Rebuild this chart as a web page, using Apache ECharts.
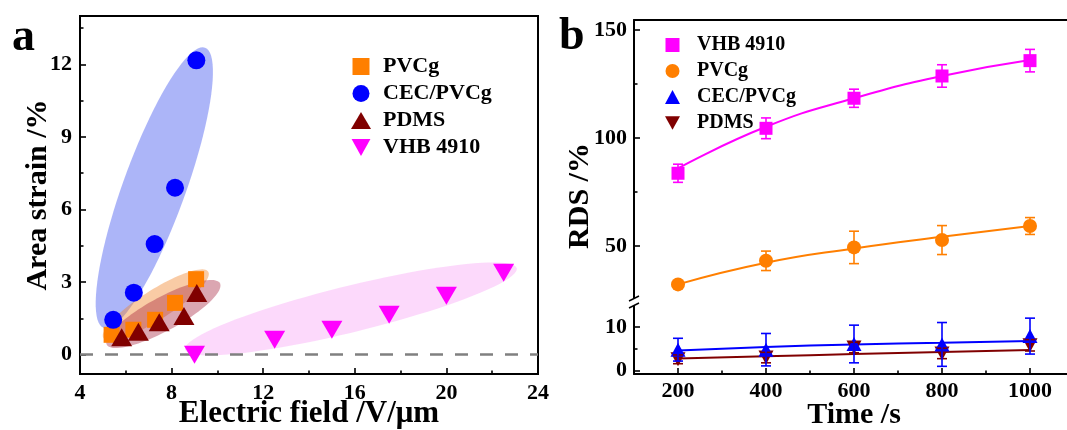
<!DOCTYPE html>
<html><head><meta charset="utf-8">
<script src="https://cdn.jsdelivr.net/npm/echarts@6/dist/echarts.min.js"></script>
<style>html,body{margin:0;padding:0;background:#fff}#c{width:1067px;height:430px}</style>
</head><body><div id="c"></div>
<script>
// ---------- Panel a data ----------
const fieldPVCg = [5.38, 6.33, 7.28, 8.15, 9.07];
const strainPVCg = [0.82, 1.03, 1.44, 2.14, 3.12];
const fieldCEC = [5.45, 6.35, 7.26, 8.15, 9.08];
const strainCEC = [1.44, 2.56, 4.57, 6.90, 12.17];
const fieldPDMS = [5.82, 6.55, 7.46, 8.54, 9.10];
const strainPDMS = [0.72, 0.95, 1.34, 1.60, 2.55];
const fieldVHB = [9, 12.5, 15, 17.5, 20, 22.5];
const strainVHB = [0, 0.62, 1.03, 1.65, 2.43, 3.39];
const yTicksA = [0, 3, 6, 9, 12];
const yMinorA = [1.5, 4.5, 7.5, 10.5, 13.5];
// highlight ellipses: major-axis end points (data units) and width/length ratio
const ellipseCEC = [5.03, 1.11, 9.46, 12.69, 0.21];
const ellipsePVCg = [5.02, 0.69, 9.60, 3.43, 0.24];
const ellipsePDMS = [5.17, 0.41, 10.11, 2.95, 0.26];
const ellipseVHB = [8.59, 0.21, 23.07, 3.57, 0.136];

// ---------- Panel b data ----------
const times = [200, 400, 600, 800, 1000];
const timeTicks = [200, 400, 600, 800, 1000];
const timeMinor = [300, 500, 700, 900];
const rdsVHB = [83.7, 104.5, 118.4, 128.7, 135.8];
const errVHB = [4.2, 4.8, 4.2, 5.2, 5.2];
const fitVHB = [86.0, 105.2, 118.4, 128.7, 136.1];
const rdsPVCg = [32.3, 43.2, 49.4, 52.8, 59.3];
const errPVCg = [1.0, 4.5, 7.5, 6.7, 3.9];
const fitPVCg = [32.3, 42.3, 48.9, 54.3, 59.3];
const rdsCEC = [4.8, 4.8, 6.1, 6.0, 7.9];
const errCEC = [2.6, 3.7, 4.3, 5.0, 4.1];
const fitCEC = [4.6, 5.4, 6.0, 6.4, 6.8];
const rdsPDMS = [2.6, 3.0, 5.3, 3.95, 5.8];
const errPDMS = [1.0, 1.2, 1.2, 1.2, 1.3];
const fitPDMS = [2.8, 3.3, 3.8, 4.3, 4.7];
const upperTicks = [50, 100, 150];
const upperMinor = [75, 125];
const lowerTicks = [0, 10];
const lowerMinor = [5];

const FONT = 'Liberation Serif';
const ORANGE = '#ff7f00', BLUE = '#0000ff', DRED = '#800000', MAG = '#ff00ff';
const INV_TRI = 'path://M0,0L10,0L5,9Z';
const SQUARE = 'path://M0,0H10V10H0Z';

function pairs(xs, ys) { return xs.map((x, i) => [x, ys[i]]); }
function errData(xs, ys, es) { return xs.map((x, i) => [x, ys[i] - es[i], ys[i] + es[i]]); }

function ellipseItem(params, api) {
  const p1 = api.coord([api.value(0), api.value(1)]);
  const p2 = api.coord([api.value(2), api.value(3)]);
  const ratio = api.value(4);
  const cx = (p1[0] + p2[0]) / 2, cy = (p1[1] + p2[1]) / 2;
  const th = Math.atan2(p2[1] - p1[1], p2[0] - p1[0]);
  const a = Math.hypot(p2[0] - p1[0], p2[1] - p1[1]) / 2, b = a * ratio;
  const pts = [];
  for (let k = 0; k < 90; k++) {
    const t = k / 90 * 2 * Math.PI;
    const ux = a * Math.cos(t), uy = b * Math.sin(t);
    pts.push([cx + ux * Math.cos(th) - uy * Math.sin(th), cy + ux * Math.sin(th) + uy * Math.cos(th)]);
  }
  return { type: 'polygon', shape: { points: pts }, style: { fill: api.visual('color') } };
}
function errItem(params, api) {
  const x = api.value(0);
  const lo = api.coord([x, api.value(1)]), hi = api.coord([x, api.value(2)]);
  const w = 5;
  const style = { stroke: api.visual('color'), lineWidth: 1.6 };
  return { type: 'group', children: [
    { type: 'line', shape: { x1: lo[0], y1: lo[1], x2: hi[0], y2: hi[1] }, style },
    { type: 'line', shape: { x1: lo[0] - w, y1: lo[1], x2: lo[0] + w, y2: lo[1] }, style },
    { type: 'line', shape: { x1: hi[0] - w, y1: hi[1], x2: hi[0] + w, y2: hi[1] }, style }
  ] };
}

const plain = v => String(v);
const tickLabel = { fontFamily: FONT, fontWeight: 'bold', fontSize: 22, color: '#000', formatter: plain };
const nameStyle = { fontFamily: FONT, fontWeight: 'bold', fontSize: 30, color: '#000' };
const lineBlk = { color: '#000', width: 2 };
const tickMajor = { inside: true, length: 6, lineStyle: { color: '#000', width: 1.6 } };
const tickMinor = { inside: true, length: 3.5, lineStyle: { color: '#000', width: 1.6 } };

const chart = echarts.init(document.getElementById('c'));
const option = {
  animation: false,
  backgroundColor: '#fff',
  grid: [
    { left: 80, top: 16, right: 529, bottom: 56, show: true, borderColor: '#000', borderWidth: 2, outerBoundsMode: 'none', containLabel: false },
    { left: 634, top: 20, right: -7, bottom: 132, outerBoundsMode: 'none', containLabel: false },
    { left: 634, top: 305, right: -7, bottom: 56, outerBoundsMode: 'none', containLabel: false }
  ],
  xAxis: [
    { gridIndex: 0, type: 'value', min: 4, max: 24, interval: 4, position: 'bottom',
      axisLine: { onZero: false, lineStyle: lineBlk }, axisTick: tickMajor,
      minorTick: { show: true, splitNumber: 2, length: 3.5, lineStyle: { color: '#000', width: 1.6 } },
      axisLabel: Object.assign({ margin: 8 }, tickLabel), splitLine: { show: false }, minorSplitLine: { show: false },
      name: 'Electric field /V/μm', nameLocation: 'middle', nameGap: 24, nameMoveOverlap: false,
      nameTextStyle: Object.assign({}, nameStyle, { fontSize: 31 }) },
    { gridIndex: 1, type: 'value', min: 100, max: 1100, position: 'top',
      axisLine: { onZero: false, lineStyle: lineBlk }, axisTick: { show: false }, axisLabel: { show: false }, splitLine: { show: false } },
    { gridIndex: 2, type: 'value', min: 100, max: 1100, position: 'bottom',
      axisLine: { onZero: false, lineStyle: lineBlk }, axisTick: Object.assign({ customValues: timeTicks }, tickMajor),
      axisLabel: Object.assign({ margin: 6, customValues: timeTicks }, tickLabel), splitLine: { show: false },
      name: 'Time /s', nameLocation: 'middle', nameGap: 26, nameMoveOverlap: false, nameTextStyle: nameStyle },
    { gridIndex: 2, type: 'value', min: 100, max: 1100, position: 'bottom',
      axisLine: { show: false, onZero: false }, axisTick: Object.assign({ customValues: timeMinor }, tickMinor),
      axisLabel: { show: false }, splitLine: { show: false } }
  ],
  yAxis: [
    { gridIndex: 0, type: 'value', min: -0.8, max: 14, position: 'left',
      axisLine: { onZero: false, lineStyle: lineBlk }, axisTick: Object.assign({ customValues: yTicksA }, tickMajor),
      axisLabel: Object.assign({ margin: 8, customValues: yTicksA }, tickLabel), splitLine: { show: false },
      name: 'Area strain /%', nameLocation: 'middle', nameGap: 27, nameMoveOverlap: false, nameTextStyle: nameStyle },
    { gridIndex: 0, type: 'value', min: -0.8, max: 14, position: 'left',
      axisLine: { show: false, onZero: false }, axisTick: Object.assign({ customValues: yMinorA }, tickMinor),
      axisLabel: { show: false }, splitLine: { show: false } },
    { gridIndex: 1, type: 'value', min: 26, max: 154.6, position: 'left',
      axisLine: { onZero: false, lineStyle: lineBlk }, axisTick: Object.assign({ customValues: upperTicks }, tickMajor),
      axisLabel: Object.assign({ margin: 7, customValues: upperTicks }, tickLabel), splitLine: { show: false } },
    { gridIndex: 1, type: 'value', min: 26, max: 154.6, position: 'left',
      axisLine: { show: false, onZero: false }, axisTick: Object.assign({ customValues: upperMinor }, tickMinor),
      axisLabel: { show: false }, splitLine: { show: false } },
    { gridIndex: 2, type: 'value', min: -0.75, max: 15, position: 'left',
      axisLine: { onZero: false, lineStyle: lineBlk }, axisTick: Object.assign({ customValues: lowerTicks }, tickMajor),
      axisLabel: Object.assign({ margin: 7, customValues: lowerTicks }, tickLabel), splitLine: { show: false } },
    { gridIndex: 2, type: 'value', min: -0.75, max: 15, position: 'left',
      axisLine: { show: false, onZero: false }, axisTick: Object.assign({ customValues: lowerMinor }, tickMinor),
      axisLabel: { show: false }, splitLine: { show: false } }
  ],
  legend: [
    { orient: 'vertical', left: 346, top: 48, itemWidth: 20, itemHeight: 17, itemGap: 0,
      textStyle: { fontFamily: FONT, fontWeight: 'bold', fontSize: 22, color: '#000', lineHeight: 27, padding: [0, 0, 0, 7] },
      data: [
        { name: 'PVCg', icon: SQUARE },
        { name: 'CEC/PVCg', icon: 'circle' },
        { name: 'PDMS', icon: 'triangle' },
        { name: 'VHB 4910', icon: INV_TRI }
      ] },
    { orient: 'vertical', left: 660, top: 27, itemWidth: 15, itemHeight: 14, itemGap: 0,
      textStyle: { fontFamily: FONT, fontWeight: 'bold', fontSize: 20, color: '#000', lineHeight: 26, padding: [0, 0, 0, 12] },
      data: [
        { name: 'VHB 4910', icon: SQUARE, itemStyle: { color: MAG } },
        { name: 'PVCg', icon: 'circle', itemStyle: { color: ORANGE } },
        { name: 'CEC/PVCg', icon: 'triangle', itemStyle: { color: BLUE } },
        { name: 'PDMS', icon: INV_TRI, itemStyle: { color: DRED } }
      ] }
  ],
  graphic: [
    { type: 'text', left: 12, top: 15, style: { text: 'a', font: 'bold 46px "Liberation Serif"', fill: '#000' } },
    { type: 'text', left: 559, top: 14, style: { text: 'b', font: 'bold 46px "Liberation Serif"', fill: '#000' } },
    { type: 'text', x: 580, y: 196, rotation: Math.PI / 2,
      style: { text: 'RDS /%', font: 'bold 30px "Liberation Serif"', fill: '#000', align: 'center', verticalAlign: 'middle' } },
    { type: 'rect', shape: { x: 628, y: 298, width: 12, height: 7 }, style: { fill: '#fff' }, z: 10 },
    { type: 'line', shape: { x1: 629, y1: 301, x2: 639, y2: 296 }, style: { stroke: '#000', lineWidth: 1.5 }, z: 11 },
    { type: 'line', shape: { x1: 629, y1: 308, x2: 639, y2: 303 }, style: { stroke: '#000', lineWidth: 1.5 }, z: 11 }
  ],
  series: [
    { name: 'e-CEC', type: 'custom', xAxisIndex: 0, yAxisIndex: 0, renderItem: ellipseItem, data: [ellipseCEC], itemStyle: { color: 'rgba(70,90,240,0.45)' }, z: 1, silent: true },
    { name: 'e-PVCg', type: 'custom', xAxisIndex: 0, yAxisIndex: 0, renderItem: ellipseItem, data: [ellipsePVCg], itemStyle: { color: 'rgba(240,130,40,0.42)' }, z: 1, silent: true },
    { name: 'e-PDMS', type: 'custom', xAxisIndex: 0, yAxisIndex: 0, renderItem: ellipseItem, data: [ellipsePDMS], itemStyle: { color: 'rgba(160,20,50,0.38)' }, z: 1, silent: true },
    { name: 'e-VHB', type: 'custom', xAxisIndex: 0, yAxisIndex: 0, renderItem: ellipseItem, data: [ellipseVHB], itemStyle: { color: 'rgba(245,120,240,0.28)' }, z: 1, silent: true },
    { name: 'PVCg', type: 'scatter', xAxisIndex: 0, yAxisIndex: 0, data: pairs(fieldPVCg, strainPVCg),
      symbol: SQUARE, symbolSize: 16, itemStyle: { color: ORANGE, opacity: 1 }, z: 3,
      markLine: { silent: true, symbol: ['none', 'none'], label: { show: false }, data: [{ yAxis: 0 }],
        lineStyle: { color: '#808080', width: 2.5, type: [13, 12] }, z: 2 } },
    { name: 'CEC/PVCg', type: 'scatter', xAxisIndex: 0, yAxisIndex: 0, data: pairs(fieldCEC, strainCEC),
      symbol: 'circle', symbolSize: 18, itemStyle: { color: BLUE, opacity: 1 }, z: 3 },
    { name: 'PDMS', type: 'scatter', xAxisIndex: 0, yAxisIndex: 0, data: pairs(fieldPDMS, strainPDMS),
      symbol: 'triangle', symbolSize: [21, 18], itemStyle: { color: DRED, opacity: 1 }, z: 3 },
    { name: 'VHB 4910', type: 'scatter', xAxisIndex: 0, yAxisIndex: 0, data: pairs(fieldVHB, strainVHB),
      symbol: INV_TRI, symbolSize: [21, 18], itemStyle: { color: MAG, opacity: 1 }, z: 4 },
    { name: 'fit VHB', type: 'line', xAxisIndex: 1, yAxisIndex: 2, data: pairs(times, fitVHB), smooth: true, showSymbol: false,
      lineStyle: { color: MAG, width: 2 }, z: 2 },
    { name: 'fit PVCg', type: 'line', xAxisIndex: 1, yAxisIndex: 2, data: pairs(times, fitPVCg), smooth: true, showSymbol: false,
      lineStyle: { color: ORANGE, width: 2 }, z: 2 },
    { name: 'err VHB', type: 'custom', xAxisIndex: 1, yAxisIndex: 2, renderItem: errItem, data: errData(times, rdsVHB, errVHB), itemStyle: { color: MAG }, z: 3 },
    { name: 'err PVCg', type: 'custom', xAxisIndex: 1, yAxisIndex: 2, renderItem: errItem, data: errData(times, rdsPVCg, errPVCg), itemStyle: { color: ORANGE }, z: 3 },
    { name: 'VHB 4910', type: 'scatter', xAxisIndex: 1, yAxisIndex: 2, data: pairs(times, rdsVHB),
      symbol: SQUARE, symbolSize: 13, itemStyle: { color: MAG, opacity: 1 }, z: 4 },
    { name: 'PVCg', type: 'scatter', xAxisIndex: 1, yAxisIndex: 2, data: pairs(times, rdsPVCg),
      symbol: 'circle', symbolSize: 14, itemStyle: { color: ORANGE, opacity: 1 }, z: 4 },
    { name: 'fit PDMS', type: 'line', xAxisIndex: 2, yAxisIndex: 4, data: pairs(times, fitPDMS), smooth: true, showSymbol: false,
      lineStyle: { color: DRED, width: 2 }, z: 2 },
    { name: 'fit CEC', type: 'line', xAxisIndex: 2, yAxisIndex: 4, data: pairs(times, fitCEC), smooth: true, showSymbol: false,
      lineStyle: { color: BLUE, width: 2 }, z: 2 },
    { name: 'PDMS', type: 'scatter', xAxisIndex: 2, yAxisIndex: 4, data: pairs(times, rdsPDMS),
      symbol: INV_TRI, symbolSize: [15, 14], itemStyle: { color: DRED, opacity: 1 }, z: 3 },
    { name: 'CEC/PVCg', type: 'scatter', xAxisIndex: 2, yAxisIndex: 4, data: pairs(times, rdsCEC),
      symbol: 'triangle', symbolSize: [15, 14], itemStyle: { color: BLUE, opacity: 1 }, z: 3 },
    { name: 'err PDMS', type: 'custom', xAxisIndex: 2, yAxisIndex: 4, renderItem: errItem, data: errData(times, rdsPDMS, errPDMS), itemStyle: { color: DRED }, z: 4 },
    { name: 'err CEC', type: 'custom', xAxisIndex: 2, yAxisIndex: 4, renderItem: errItem, data: errData(times, rdsCEC, errCEC), itemStyle: { color: BLUE }, z: 4 }
  ]
};
chart.setOption(option);
</script>
</body></html>
